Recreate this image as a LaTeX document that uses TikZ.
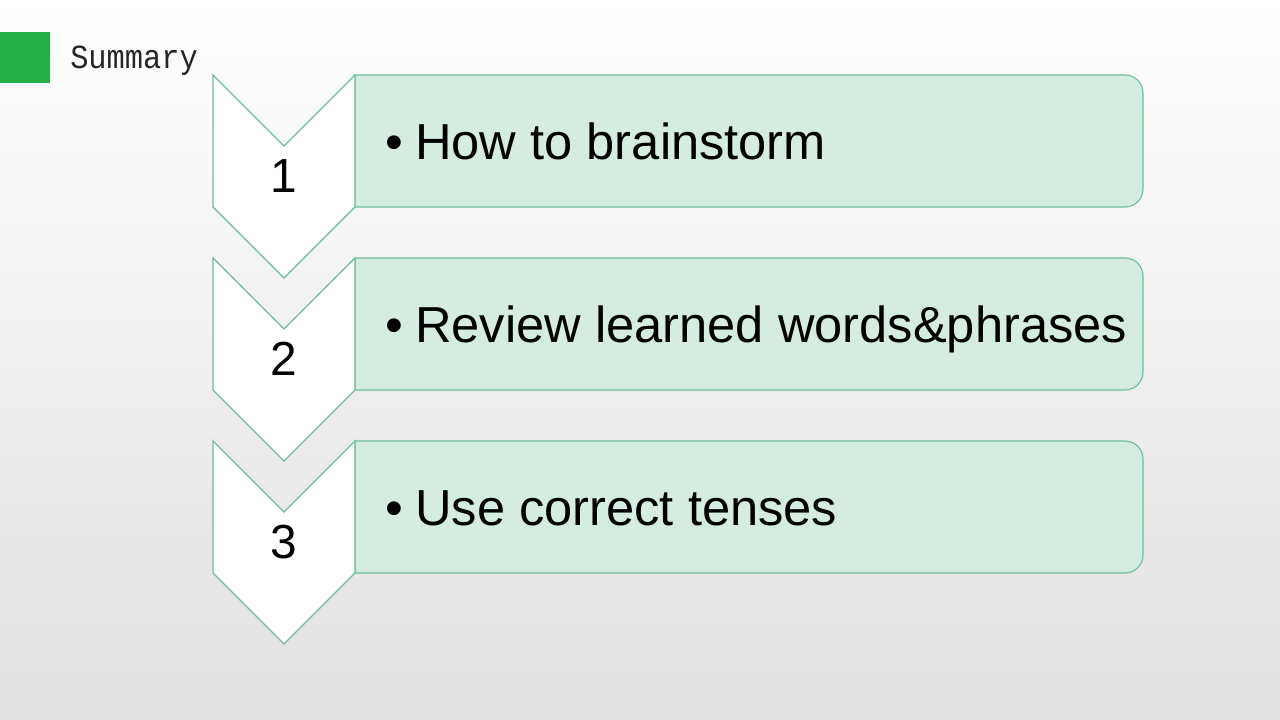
\documentclass[tikz,border=0pt]{standalone}
\usepackage{fontspec}
\setmainfont{Liberation Sans}
\newfontfamily\summaryfont{Liberation Mono}
\definecolor{stepline}{RGB}{108,190,158}
\definecolor{stepfill}{RGB}{213,237,224}
\definecolor{markgreen}{RGB}{40,174,70}
\tikzset{
  chevron/.style={draw=stepline,fill=white,line width=0.8pt,line join=miter},
  itembox/.style={draw=stepline,fill=stepfill,line width=0.8pt},
  itemtext/.style={anchor=base west,inner sep=0pt,font=\fontsize{36}{40}\selectfont},
  stepnum/.style={anchor=base,inner sep=0pt,font=\fontsize{34}{38}\selectfont}
}
\begin{document}
\begin{tikzpicture}[x=0.025cm,y=0.025cm]
  \useasboundingbox (0,0) rectangle (1280,720);
  \shade[top color=white,bottom color=black!12] (0,0) rectangle (1280,720);
  % title
  \fill[markgreen] (0,637) rectangle (50,688);
  \node[anchor=base west,inner sep=0pt,xscale=0.9,text=black!85,
    font=\summaryfont\fontsize{24}{28}\selectfont] (title) at (70,651) {Summary};
  % steps
  \foreach \txt [count=\i] in {How to brainstorm,Review learned words\&phrases,Use correct tenses} {
    \pgfmathsetmacro{\t}{645-183*(\i-1)}
    \draw[itembox] (355,\t) -- (1125,\t) arc[start angle=90,end angle=0,radius=18]
      -- (1143,\t-114) arc[start angle=0,end angle=-90,radius=18] -- (355,\t-132) -- cycle;
    \draw[chevron] (213,\t) -- (284,\t-71) -- (355,\t) -- (355,\t-132)
      -- (284,\t-203) -- (213,\t-132) -- cycle;
    \node[stepnum] (num\i) at (284,\t-118) {\i};
    \node[itemtext] (bullet\i) at (385,\t-85) {\textbullet};
    \node[itemtext] (item\i) at (415,\t-85) {\txt};
  }
\end{tikzpicture}
\end{document}
